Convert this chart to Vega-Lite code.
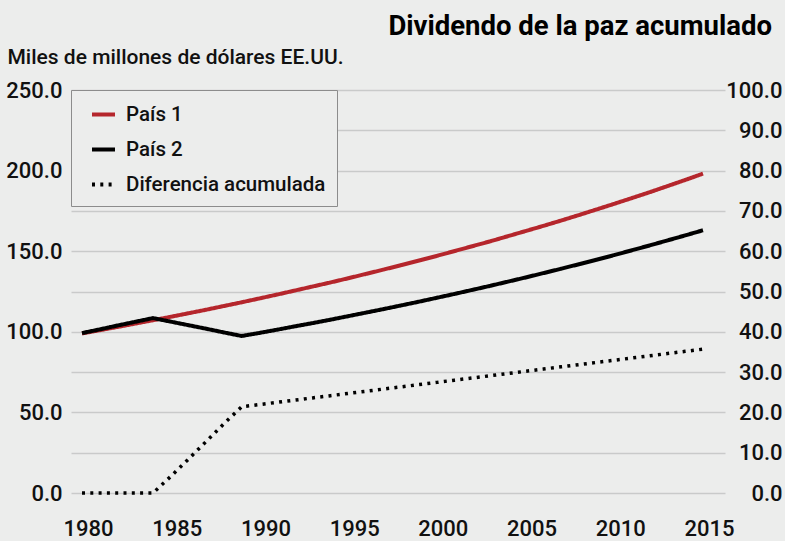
{
  "$schema": "https://vega.github.io/schema/vega-lite/v6.json",
  "width": 654,
  "height": 403,
  "autosize": "none",
  "padding": {"left": 71, "top": 90, "right": 60, "bottom": 48},
  "background": "#ECEDEC",
  "title": {
    "text": "Dividendo de la paz acumulado",
    "anchor": "end",
    "frame": "group",
    "font": "Roboto",
    "fontSize": 27.5,
    "fontWeight": "bold",
    "color": "#000000",
    "baseline": "alphabetic",
    "offset": -16,
    "dx": 47
  },
  "data": {
    "values": [
      {"year": 1980, "serie": "País 1", "value": 99.0},
      {"year": 1981, "serie": "País 1", "value": 101.0},
      {"year": 1982, "serie": "País 1", "value": 103.0},
      {"year": 1983, "serie": "País 1", "value": 105.1},
      {"year": 1984, "serie": "País 1", "value": 107.2},
      {"year": 1985, "serie": "País 1", "value": 109.3},
      {"year": 1986, "serie": "País 1", "value": 111.5},
      {"year": 1987, "serie": "País 1", "value": 113.7},
      {"year": 1988, "serie": "País 1", "value": 116.0},
      {"year": 1989, "serie": "País 1", "value": 118.3},
      {"year": 1990, "serie": "País 1", "value": 120.7},
      {"year": 1991, "serie": "País 1", "value": 123.1},
      {"year": 1992, "serie": "País 1", "value": 125.6},
      {"year": 1993, "serie": "País 1", "value": 128.1},
      {"year": 1994, "serie": "País 1", "value": 130.6},
      {"year": 1995, "serie": "País 1", "value": 133.2},
      {"year": 1996, "serie": "País 1", "value": 135.9},
      {"year": 1997, "serie": "País 1", "value": 138.6},
      {"year": 1998, "serie": "País 1", "value": 141.4},
      {"year": 1999, "serie": "País 1", "value": 144.2},
      {"year": 2000, "serie": "País 1", "value": 147.1},
      {"year": 2001, "serie": "País 1", "value": 150.1},
      {"year": 2002, "serie": "País 1", "value": 153.1},
      {"year": 2003, "serie": "País 1", "value": 156.1},
      {"year": 2004, "serie": "País 1", "value": 159.3},
      {"year": 2005, "serie": "País 1", "value": 162.5},
      {"year": 2006, "serie": "País 1", "value": 165.7},
      {"year": 2007, "serie": "País 1", "value": 169.0},
      {"year": 2008, "serie": "País 1", "value": 172.4},
      {"year": 2009, "serie": "País 1", "value": 175.9},
      {"year": 2010, "serie": "País 1", "value": 179.4},
      {"year": 2011, "serie": "País 1", "value": 183.0},
      {"year": 2012, "serie": "País 1", "value": 186.6},
      {"year": 2013, "serie": "País 1", "value": 190.4},
      {"year": 2014, "serie": "País 1", "value": 194.2},
      {"year": 2015, "serie": "País 1", "value": 198.1},
      {"year": 1980, "serie": "País 2", "value": 99.2},
      {"year": 1981, "serie": "País 2", "value": 101.5},
      {"year": 1982, "serie": "País 2", "value": 103.9},
      {"year": 1983, "serie": "País 2", "value": 106.2},
      {"year": 1984, "serie": "País 2", "value": 108.5},
      {"year": 1985, "serie": "País 2", "value": 106.3},
      {"year": 1986, "serie": "País 2", "value": 104.1},
      {"year": 1987, "serie": "País 2", "value": 101.9},
      {"year": 1988, "serie": "País 2", "value": 99.6},
      {"year": 1989, "serie": "País 2", "value": 97.4},
      {"year": 1990, "serie": "País 2", "value": 99.3},
      {"year": 1991, "serie": "País 2", "value": 101.3},
      {"year": 1992, "serie": "País 2", "value": 103.4},
      {"year": 1993, "serie": "País 2", "value": 105.4},
      {"year": 1994, "serie": "País 2", "value": 107.5},
      {"year": 1995, "serie": "País 2", "value": 109.7},
      {"year": 1996, "serie": "País 2", "value": 111.9},
      {"year": 1997, "serie": "País 2", "value": 114.1},
      {"year": 1998, "serie": "País 2", "value": 116.4},
      {"year": 1999, "serie": "País 2", "value": 118.7},
      {"year": 2000, "serie": "País 2", "value": 121.1},
      {"year": 2001, "serie": "País 2", "value": 123.5},
      {"year": 2002, "serie": "País 2", "value": 126.0},
      {"year": 2003, "serie": "País 2", "value": 128.5},
      {"year": 2004, "serie": "País 2", "value": 131.1},
      {"year": 2005, "serie": "País 2", "value": 133.7},
      {"year": 2006, "serie": "País 2", "value": 136.4},
      {"year": 2007, "serie": "País 2", "value": 139.1},
      {"year": 2008, "serie": "País 2", "value": 141.9},
      {"year": 2009, "serie": "País 2", "value": 144.7},
      {"year": 2010, "serie": "País 2", "value": 147.6},
      {"year": 2011, "serie": "País 2", "value": 150.6},
      {"year": 2012, "serie": "País 2", "value": 153.6},
      {"year": 2013, "serie": "País 2", "value": 156.7},
      {"year": 2014, "serie": "País 2", "value": 159.8},
      {"year": 2015, "serie": "País 2", "value": 163.0},
      {"year": 1980, "serie": "Diferencia acumulada", "value": 0},
      {"year": 1981, "serie": "Diferencia acumulada", "value": 0},
      {"year": 1982, "serie": "Diferencia acumulada", "value": 0},
      {"year": 1983, "serie": "Diferencia acumulada", "value": 0},
      {"year": 1984, "serie": "Diferencia acumulada", "value": 0},
      {"year": 1985, "serie": "Diferencia acumulada", "value": 4.1},
      {"year": 1986, "serie": "Diferencia acumulada", "value": 8.4},
      {"year": 1987, "serie": "Diferencia acumulada", "value": 12.8},
      {"year": 1988, "serie": "Diferencia acumulada", "value": 17.2},
      {"year": 1989, "serie": "Diferencia acumulada", "value": 21.4},
      {"year": 1990, "serie": "Diferencia acumulada", "value": 21.95},
      {"year": 1991, "serie": "Diferencia acumulada", "value": 22.5},
      {"year": 1992, "serie": "Diferencia acumulada", "value": 23.05},
      {"year": 1993, "serie": "Diferencia acumulada", "value": 23.6},
      {"year": 1994, "serie": "Diferencia acumulada", "value": 24.15},
      {"year": 1995, "serie": "Diferencia acumulada", "value": 24.7},
      {"year": 1996, "serie": "Diferencia acumulada", "value": 25.25},
      {"year": 1997, "serie": "Diferencia acumulada", "value": 25.8},
      {"year": 1998, "serie": "Diferencia acumulada", "value": 26.35},
      {"year": 1999, "serie": "Diferencia acumulada", "value": 26.9},
      {"year": 2000, "serie": "Diferencia acumulada", "value": 27.45},
      {"year": 2001, "serie": "Diferencia acumulada", "value": 28.0},
      {"year": 2002, "serie": "Diferencia acumulada", "value": 28.55},
      {"year": 2003, "serie": "Diferencia acumulada", "value": 29.1},
      {"year": 2004, "serie": "Diferencia acumulada", "value": 29.65},
      {"year": 2005, "serie": "Diferencia acumulada", "value": 30.2},
      {"year": 2006, "serie": "Diferencia acumulada", "value": 30.75},
      {"year": 2007, "serie": "Diferencia acumulada", "value": 31.3},
      {"year": 2008, "serie": "Diferencia acumulada", "value": 31.85},
      {"year": 2009, "serie": "Diferencia acumulada", "value": 32.4},
      {"year": 2010, "serie": "Diferencia acumulada", "value": 32.95},
      {"year": 2011, "serie": "Diferencia acumulada", "value": 33.5},
      {"year": 2012, "serie": "Diferencia acumulada", "value": 34.05},
      {"year": 2013, "serie": "Diferencia acumulada", "value": 34.6},
      {"year": 2014, "serie": "Diferencia acumulada", "value": 35.15},
      {"year": 2015, "serie": "Diferencia acumulada", "value": 35.7}
    ]
  },
  "layer": [
    {
      "transform": [{"filter": "datum.serie !== 'Diferencia acumulada'"}],
      "mark": {"type": "line", "strokeWidth": 4, "strokeJoin": "miter"},
      "encoding": {
        "x": {
          "field": "year",
          "type": "quantitative",
          "scale": {"domain": [1979.38, 2016.24], "nice": false, "zero": false},
          "axis": {
            "values": [1980, 1985, 1990, 1995, 2000, 2005, 2010, 2015],
            "format": "d",
            "grid": false,
            "domain": false,
            "ticks": false,
            "labelOffset": 6,
            "labelPadding": 25,
            "title": null
          }
        },
        "y": {
          "field": "value",
          "type": "quantitative",
          "scale": {"domain": [0, 250], "nice": false},
          "axis": {
            "values": [0, 50, 100, 150, 200, 250],
            "format": ".1f",
            "grid": false,
            "domain": false,
            "ticks": false,
            "labelPadding": 9,
            "title": "Miles de millones de dólares EE.UU.",
            "titleAngle": 0,
            "titleAlign": "left",
            "titleBaseline": "alphabetic",
            "titleX": -64,
            "titleY": -27,
            "titleFont": "Roboto",
            "titleFontSize": 21,
            "titleFontWeight": 500,
            "titleColor": "#111111"
          }
        },
        "color": {
          "field": "serie",
          "type": "nominal",
          "scale": {"domain": ["País 1", "País 2", "Diferencia acumulada"], "range": ["#B5262C", "#000000", "#000000"]},
          "legend": {"title": null}
        },
        "strokeDash": {
          "field": "serie",
          "type": "nominal",
          "scale": {"domain": ["País 1", "País 2", "Diferencia acumulada"], "range": [[1, 0], [1, 0], [3, 5.3]]},
          "legend": {"title": null}
        }
      }
    },
    {
      "transform": [{"filter": "datum.serie === 'Diferencia acumulada'"}],
      "mark": {"type": "line", "strokeWidth": 3.5},
      "encoding": {
        "x": {"field": "year", "type": "quantitative"},
        "y": {
          "field": "value",
          "type": "quantitative",
          "scale": {"domain": [0, 100], "nice": false},
          "axis": {
            "orient": "right",
            "values": [0, 10, 20, 30, 40, 50, 60, 70, 80, 90, 100],
            "format": ".1f",
            "grid": true,
            "gridColor": "#C9CACA",
            "gridWidth": 1.5,
            "domain": false,
            "ticks": false,
            "labelAlign": "right",
            "labelPadding": 57,
            "title": null
          }
        },
        "color": {"field": "serie", "type": "nominal", "legend": {"title": null}},
        "strokeDash": {"field": "serie", "type": "nominal", "legend": {"title": null}}
      }
    }
  ],
  "resolve": {"scale": {"y": "independent"}},
  "config": {
    "view": {"stroke": null},
    "font": "Roboto",
    "axis": {
      "labelFont": "Roboto",
      "labelFontSize": 22,
      "labelFontWeight": 500,
      "labelColor": "#111111"
    },
    "legend": {
      "orient": "top-left",
      "offset": 0,
      "padding": 11,
      "symbolOffset": 8,
      "fillColor": "#ECEDEC",
      "strokeColor": "#8C8C8C",
      "symbolType": "stroke",
      "symbolSize": 529,
      "symbolStrokeWidth": 4,
      "labelFont": "Roboto",
      "labelFontSize": 20.5,
      "labelFontWeight": 500,
      "labelColor": "#111111",
      "labelOffset": 9,
      "rowPadding": 11,
      "labelLimit": 400
    }
  }
}
